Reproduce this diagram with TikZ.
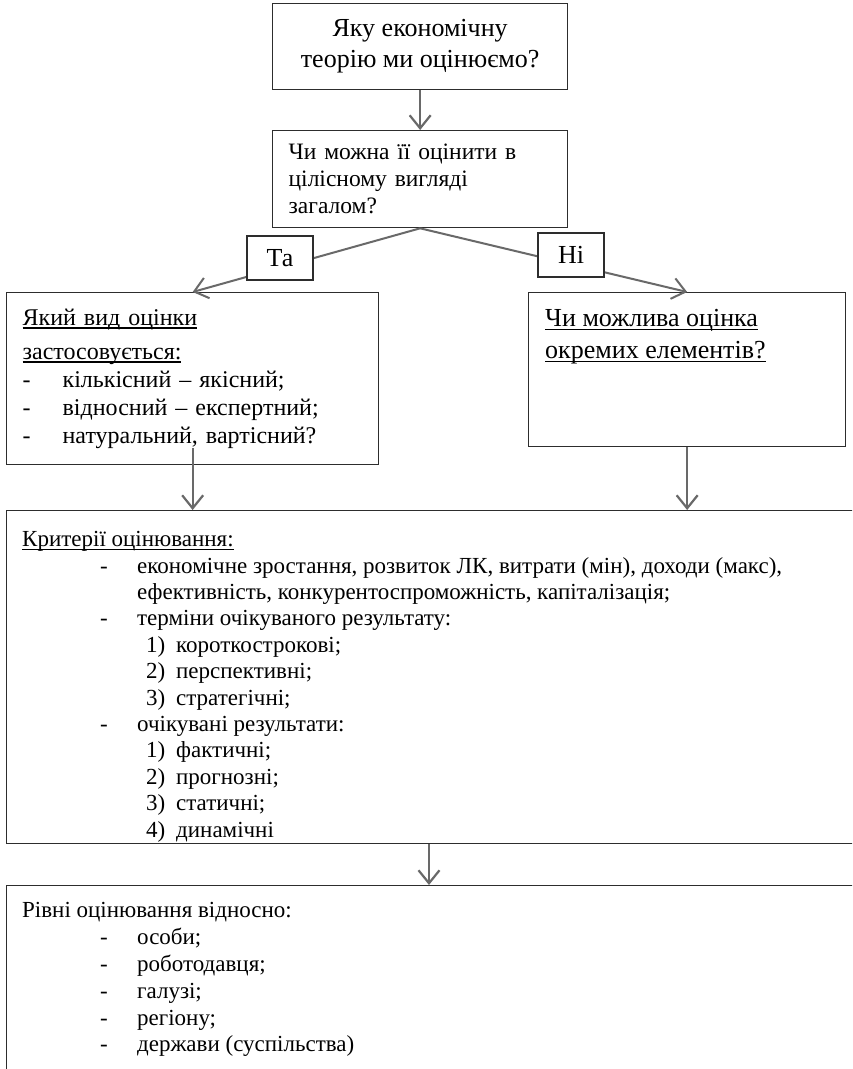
\documentclass[tikz,border=0pt]{standalone}
\usepackage{fontspec}
\setmainfont{LiberationSerif}[Extension=.ttf, UprightFont=*-Regular, BoldFont=*-Bold, ItalicFont=*-Italic, BoldItalicFont=*-BoldItalic]
\usetikzlibrary{arrows.meta}
\definecolor{boxgray}{RGB}{45,45,45}
\definecolor{arrowgray}{RGB}{105,105,105}
\newcommand{\undl}[1]{\leavevmode\setbox0\hbox{#1}\rlap{\rule[-3.5pt]{\wd0}{1.3pt}}\box0}
\newcommand{\dashitem}[2][37pt]{\makebox[#1][l]{-}#2}
\newcommand{\numitem}[2]{\makebox[30pt][l]{#1}#2}

\begin{document}
\begin{tikzpicture}[x=1pt, y=-1pt,
    every node/.style={font=\rmfamily\fontsize{23}{26.4}\selectfont},
    block/.style={draw=boxgray, line width=1.3pt, anchor=north west, inner sep=0pt},
    tag/.style={draw=boxgray, line width=1.1pt, fill=white, minimum width=66pt, minimum height=44pt, inner sep=0pt, font=\rmfamily\fontsize{26}{30}\selectfont},
    flow/.style={draw=arrowgray, line width=2.2pt, -{Straight Barb[length=13pt, width=21pt]}},
    branch/.style={draw=arrowgray, line width=2pt, -{Straight Barb[length=13pt, width=21pt]}}]
  \useasboundingbox (0,0) rectangle (852,1069);
  \clip (0,0) rectangle (852,1069);
  \fill[white] (0,0) rectangle (852,1069);

  \node[block, align=center, minimum width=295pt, minimum height=86pt, font=\rmfamily\fontsize{26}{31}\selectfont] (theory) at (272,3) {Яку економічну\\теорію ми оцінюємо?};
  \node[block, align=left, text width=263pt, inner xsep=16pt, minimum height=97pt, font=\rmfamily\fontsize{23.5}{26.8}\selectfont] (ask) at (272,130) {Чи можна її оцінити в\\цілісному вигляді\\загалом?};
  \node[block, align=left, text width=340pt, inner xsep=16pt, minimum height=172pt, font=\rmfamily\fontsize{24}{28}\selectfont] (kind) at (6,292)
       {\undl{Який вид оцінки}\\[6pt]\undl{застосовується:}\\\dashitem[40pt]{кількісний – якісний;}\\\dashitem[40pt]{відносний – експертний;}\\\dashitem[40pt]{натуральний, вартісний?}};
  \node[block, minimum width=317pt, minimum height=154pt] (parts) at (528,292) {};
  \node[anchor=north west, inner sep=0pt, align=left, font=\rmfamily\fontsize{26}{32}\selectfont] (parts-text) at ([shift={(17,12)}]parts.north west)
       {\strut\undl{Чи можлива оцінка}\\\undl{окремих елементів?}};
  \node[block, minimum width=1000pt, minimum height=333pt] (crit) at (6,510) {};
  \node[anchor=north west, inner sep=0pt, align=left] (crit-text) at ([shift={(16,18)}]crit.north west)
       {\strut\undl{Критерії оцінювання:}\\
        \hspace*{78pt}\dashitem{економічне зростання, розвиток ЛК, витрати (мін), доходи (макс),}\\
        \hspace*{115pt}ефективність, конкурентоспроможність, капіталізація;\\
        \hspace*{78pt}\dashitem{терміни очікуваного результату:}\\
        \hspace*{124pt}\numitem{1)}{короткострокові;}\\
        \hspace*{124pt}\numitem{2)}{перспективні;}\\
        \hspace*{124pt}\numitem{3)}{стратегічні;}\\
        \hspace*{78pt}\dashitem{очікувані результати:}\\
        \hspace*{124pt}\numitem{1)}{фактичні;}\\
        \hspace*{124pt}\numitem{2)}{прогнозні;}\\
        \hspace*{124pt}\numitem{3)}{статичні;}\\
        \hspace*{124pt}\numitem{4)}{динамічні}};
  \node[block, minimum width=1000pt, minimum height=300pt] (levels) at (6,885) {};
  \node[anchor=north west, inner sep=0pt, align=left, font=\rmfamily\fontsize{23}{26.8}\selectfont] (levels-text) at ([shift={(16,14)}]levels.north west)
       {\strut Рівні оцінювання відносно:\\
        \hspace*{78pt}\dashitem{особи;}\\
        \hspace*{78pt}\dashitem{роботодавця;}\\
        \hspace*{78pt}\dashitem{галузі;}\\
        \hspace*{78pt}\dashitem{регіону;}\\
        \hspace*{78pt}\dashitem{держави (суспільства)}};

  \draw[flow] (theory.south) -- (ask.north);
  \draw[branch] (ask.south) -- (kind.north);
  \draw[branch] (ask.south) -- (parts.north);
  \node[tag] (yes) at (280,258) {Та};
  \node[tag] (no) at (571,255) {Ні};
  \draw[flow] ([yshift=17pt]kind.south) -- (kind.south |- crit.north);
  \draw[flow] (parts.south) -- (parts.south |- crit.north);
  \draw[flow] ([xshift=423pt]crit.south west) -- ([xshift=423pt]levels.north west);
\end{tikzpicture}
\end{document}
